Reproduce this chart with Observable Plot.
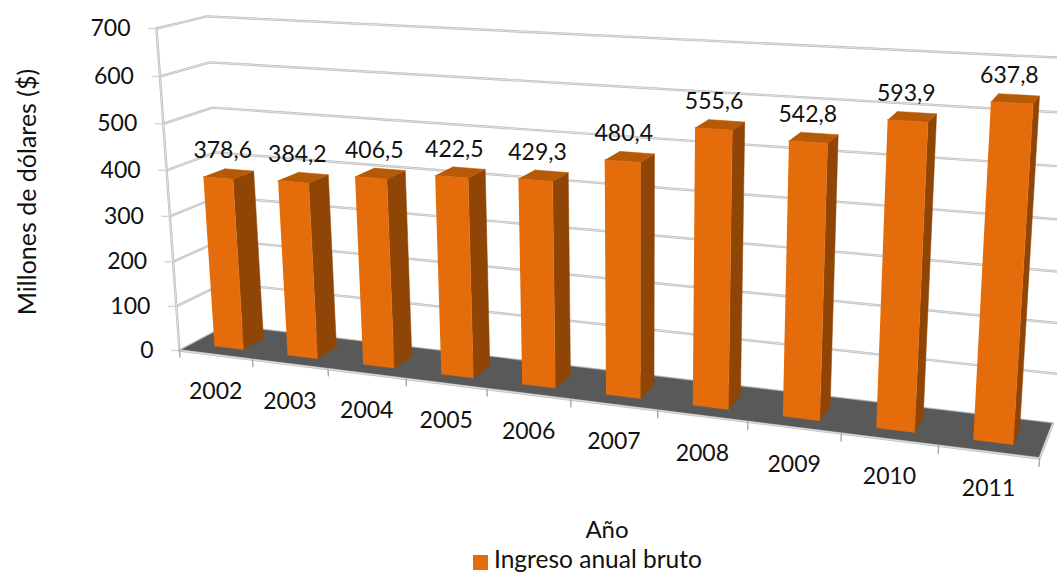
<!DOCTYPE html>
<html lang="es">
<head>
<meta charset="utf-8">
<script src="https://cdn.jsdelivr.net/npm/d3@7"></script>
<script src="https://cdn.jsdelivr.net/npm/@observablehq/plot@0.6"></script>
<style>
html,body{margin:0;padding:0;background:#fff;overflow:hidden;width:1057px;height:573px}
#chart svg{display:block}
.below{font-family:Lato,sans-serif;color:#111;position:absolute;white-space:nowrap;line-height:22px}
#xt{left:607px;top:518px;font-size:24px;transform:translateX(-50%)}
#lg{left:473px;top:547.5px;font-size:24.5px;display:flex;align-items:center;gap:6px}
#lg i{display:inline-block;width:15px;height:15px;background:#E46C0A;margin-top:7px}
</style>
</head>
<body>
<div id="chart"></div>
<div class="below" id="xt">Año</div>
<div class="below" id="lg"><i></i><span>Ingreso anual bruto</span></div>
<script>
const years = [2002,2003,2004,2005,2006,2007,2008,2009,2010,2011];
const ingresos = [378.6,384.2,406.5,422.5,429.3,480.4,555.6,542.8,593.9,637.8];
const yTicks = [0,100,200,300,400,500,600,700];
const yMax = 700;

// Perspective of the box: u across the categories, v = value, w = depth
const pr = (u, value, w) => {
  const v = value / yMax;
  const d = 1 - 0.165*u - 0.0475*v + 0.0433*w;
  return {
    x: (179 + 688.6*u - 30.4*v + 56.8*w) / d,
    y: (350 + 32.4*u - 323.3*v - 10.9*w) / d
  };
};
const poly = (id, pts) => pts.map(([u,v,w]) => ({id, ...pr(u,v,w)}));

const barW = 0.04, w0 = 0.28, w1 = 0.72;
const front = [], side = [], top_ = [];
years.forEach((yr,i) => {
  const c = (i+0.5)/years.length, a = c-barW/2, b = c+barW/2, v = ingresos[i];
  front.push(...poly(yr,[[a,0,w0],[b,0,w0],[b,v,w0],[a,v,w0]]));
  side.push(...poly(yr,[[b,0,w0],[b,0,w1],[b,v,w1],[b,v,w0]]));
  top_.push(...poly(yr,[[a,v,w0],[b,v,w0],[b,v,w1],[a,v,w1]]));
});
const grid = yTicks.flatMap(t => poly(t,[[0,t,0],[0,t,1],[1,t,1]]));
const leftEdge = poly("e",[[0,0,0],[0,yMax,0]]);
const floor = poly("f",[[0,0,0],[1,0,0],[1,0,1],[0,0,1]]);
const floorEdge = poly("b",[[0,0,0],[1,0,0],[1,0,1]]);
const xTicks = d3.range(years.length+1).flatMap(k => poly(k,[[k/years.length,0,0],[k/years.length,-15,0]]));
const yStubs = yTicks.map(t => pr(0,t,0));
const catLabels = years.map((yr,i) => ({t:String(yr), ...pr((i+0.5)/years.length,0,0)}));
const valLabels = ingresos.map((v,i) => ({t:v.toFixed(1).replace(".",","), ...pr((i+0.5)/years.length,v,0.5)}));
const tickLabels = yTicks.map(t => ({t:String(t), ...pr(0,t,0)}));

const F = "Lato, sans-serif";
const dbl = (data, w=2.4) => [
  Plot.line(data,{x:"x",y:"y",z:"id",stroke:"#bdbdbd",strokeWidth:w,clip:true}),
  Plot.line(data,{x:"x",y:"y",z:"id",stroke:"#efefef",strokeWidth:0.7,clip:true})
];
const chart = Plot.plot({
  width:1057, height:518, margin:0,
  x:{axis:null,domain:[0,1057],range:[0,1057]},
  y:{axis:null,domain:[0,518],range:[0,518]},
  style:{background:"transparent"},
  marks:[
    ...dbl(grid),
    ...dbl(leftEdge),
    Plot.ruleY(yStubs,{y:"y",x1:d=>d.x-8,x2:"x",stroke:"#d4d4d4",strokeWidth:1.4}),
    Plot.line(floor,{x:"x",y:"y",z:"id",fill:"#595959",stroke:"#595959",strokeWidth:0.5}),
    ...dbl(floorEdge),
    Plot.line(xTicks,{x:"x",y:"y",z:"id",stroke:"#a6a6a6",strokeWidth:1.4}),
    Plot.line(side,{x:"x",y:"y",z:"id",fill:"#8F4506",stroke:"#8F4506",strokeWidth:0.5}),
    Plot.line(top_,{x:"x",y:"y",z:"id",fill:"#B75A08",stroke:"#B75A08",strokeWidth:0.5}),
    Plot.line(front,{x:"x",y:"y",z:"id",fill:"#E46C0A",stroke:"#E46C0A",strokeWidth:0.5}),
    Plot.text(tickLabels,{x:"x",y:"y",text:"t",textAnchor:"end",dx:-26,fontSize:23,fontFamily:F,fill:"#111"}),
    Plot.text(catLabels,{x:"x",y:"y",text:"t",dy:37,fontSize:23,fontFamily:F,fill:"#111"}),
    Plot.text(valLabels,{x:"x",y:"y",text:"t",dy:-23,dx:-6,fontSize:23,fontFamily:F,fill:"#111"}),
    Plot.text(["Millones de dólares ($)"],{frameAnchor:"left",textAnchor:"middle",rotate:-90,dx:27,dy:-67.5,fontSize:25,fontFamily:F,fill:"#111"})
  ]
});
document.getElementById("chart").append(chart);
</script>
</body>
</html>
